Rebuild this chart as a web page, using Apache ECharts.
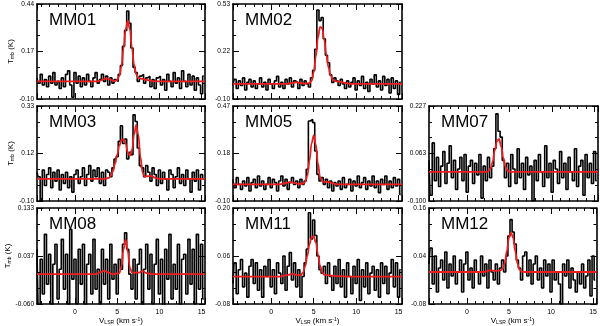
<!DOCTYPE html>
<html><head><meta charset="utf-8">
<script src="https://cdn.jsdelivr.net/npm/echarts@6/dist/echarts.min.js"></script>
<style>html,body{margin:0;padding:0;background:#fff}#c{width:600px;height:326px}</style>
</head><body><div id="c"></div>
<script>
// spectral channels (km/s)
const channels = [-4.5,-4.25,-4,-3.75,-3.5,-3.25,-3,-2.75,-2.5,-2.25,-2,-1.75,-1.5,-1.25,-1,-0.75,-0.5,-0.25,0,0.25,0.5,0.75,1,1.25,1.5,1.75,2,2.25,2.5,2.75,3,3.25,3.5,3.75,4,4.25,4.5,4.75,5,5.25,5.5,5.75,6,6.25,6.5,6.75,7,7.25,7.5,7.75,8,8.25,8.5,8.75,9,9.25,9.5,9.75,10,10.25,10.5,10.75,11,11.25,11.5,11.75,12,12.25,12.5,12.75,13,13.25,13.5,13.75,14,14.25,14.5,14.75,15,15.25];

const mm01 = [0.02,-0.01,0.04,-0.02,0.01,-0.03,0.03,-0.01,0.05,-0.02,0.00,-0.04,0.02,-0.03,0.04,0.06,-0.02,-0.09,0.05,-0.01,0.03,-0.03,0.02,-0.02,0.04,0.00,-0.03,0.02,0.05,-0.01,0.01,0.04,0.00,0.03,-0.02,0.02,-0.01,0.01,0.00,0.04,0.09,0.20,0.29,0.40,0.33,0.19,0.08,0.05,0.00,0.03,0.04,-0.01,0.02,0.03,-0.03,0.01,-0.04,0.02,0.03,-0.02,0.01,-0.05,0.04,0.00,-0.03,0.05,-0.01,0.02,-0.04,0.06,0.00,-0.03,0.04,-0.02,0.03,-0.05,0.02,-0.02,-0.07,0.03];
const mm02 = [-0.01,0.03,-0.03,0.02,-0.01,0.04,-0.04,0.01,0.03,-0.02,0.02,-0.03,0.00,0.04,-0.02,0.01,-0.04,0.03,0.00,-0.03,0.02,0.05,-0.02,0.01,-0.03,0.03,0.00,0.04,-0.02,0.02,0.01,-0.03,0.03,-0.01,0.02,0.00,-0.02,0.04,0.09,0.23,0.49,0.42,0.44,0.30,0.19,0.14,0.06,0.01,0.04,0.02,-0.01,0.03,0.00,-0.03,0.02,-0.02,0.01,0.04,-0.04,0.02,-0.01,0.05,-0.03,0.01,-0.05,0.03,0.00,0.06,-0.02,0.02,-0.04,0.05,-0.01,0.03,-0.06,0.04,-0.03,0.02,-0.07,0.01];
const mm03 = [0.03,0.01,-0.10,0.04,-0.03,0.02,0.05,-0.04,0.03,-0.01,0.04,-0.05,0.02,-0.02,0.03,-0.04,0.01,-0.06,0.02,0.04,-0.02,0.01,0.05,-0.03,0.02,0.06,-0.01,0.04,0.01,0.05,-0.02,0.03,-0.03,0.04,0.03,0.01,0.05,0.09,0.10,0.17,0.24,0.16,0.18,0.09,0.12,0.11,0.29,0.26,0.14,0.06,0.05,0.01,0.06,0.03,-0.01,0.05,0.02,-0.03,0.04,-0.02,0.03,0.00,-0.05,0.04,0.02,-0.04,0.01,0.05,-0.02,0.02,-0.03,0.04,0.00,-0.06,0.03,-0.01,0.04,-0.05,0.02,0.00];
const mm05 = [0.03,-0.02,0.04,0.00,-0.03,0.02,-0.01,0.04,-0.04,0.01,0.03,-0.02,0.05,-0.01,0.02,-0.03,0.00,0.04,-0.02,0.03,0.01,-0.04,0.02,0.05,-0.01,0.03,-0.03,0.01,0.04,0.00,0.02,-0.02,0.03,0.00,0.02,0.09,0.38,0.39,0.37,0.20,0.06,0.02,0.04,0.00,0.03,-0.02,0.02,-0.04,0.01,-0.01,0.02,-0.03,0.04,-0.02,0.00,0.03,-0.04,0.02,-0.01,0.05,-0.02,0.01,0.04,-0.03,0.02,-0.01,0.05,-0.02,0.02,-0.05,0.03,0.00,0.05,-0.03,0.02,-0.02,0.04,-0.01,0.03,-0.06];
const mm07 = [0.04,-0.08,0.10,-0.03,0.05,-0.05,0.02,0.07,-0.04,0.03,0.09,-0.02,0.04,-0.06,0.01,0.05,-0.03,0.06,-0.07,0.02,0.04,-0.04,0.03,-0.01,0.06,-0.09,0.02,-0.03,0.05,-0.02,0.02,0.08,0.20,0.14,0.12,0.04,-0.02,0.03,-0.05,0.06,0.01,-0.04,0.08,-0.02,0.03,-0.06,0.05,-0.01,0.02,-0.10,0.04,-0.03,0.06,0.00,-0.05,0.09,-0.02,0.03,-0.07,0.04,0.01,-0.04,0.07,-0.02,0.03,-0.06,0.05,0.00,-0.03,0.08,-0.05,0.02,0.04,-0.08,0.06,-0.02,0.03,-0.04,0.07,-0.03];
const mm08 = [0.05,-0.07,0.03,-0.04,0.08,-0.02,0.04,-0.07,0.02,0.06,-0.05,0.01,0.07,-0.03,0.04,-0.07,0.09,-0.01,0.03,-0.06,0.05,-0.02,0.06,-0.07,0.02,0.04,-0.04,0.07,-0.03,0.01,-0.06,0.05,-0.02,0.03,-0.05,0.06,-0.01,0.02,-0.04,0.03,0.01,0.06,0.083,0.05,0.00,-0.03,0.03,-0.05,0.02,0.05,-0.07,0.01,0.06,-0.03,0.04,-0.06,0.02,0.07,-0.04,0.03,-0.07,0.05,-0.01,0.08,-0.05,0.02,-0.03,0.06,-0.07,0.03,0.04,-0.04,0.07,-0.02,0.05,-0.06,0.08,-0.03,0.06,-0.05];
const mm11 = [-0.02,0.04,-0.05,0.02,0.05,-0.03,0.01,-0.06,0.03,0.05,-0.02,0.04,-0.04,0.02,-0.06,0.03,0.00,0.05,-0.03,0.02,-0.05,0.04,0.01,-0.02,0.06,-0.04,0.03,0.07,-0.01,0.04,-0.03,0.02,-0.06,0.00,0.04,0.08,0.186,0.11,0.165,0.12,0.06,0.02,0.01,0.03,-0.02,0.04,0.00,-0.04,0.03,-0.02,0.05,-0.03,0.02,-0.06,0.04,0.00,-0.05,0.03,-0.02,0.05,-0.07,0.02,-0.03,0.04,-0.05,0.01,0.03,-0.04,0.02,-0.06,0.04,-0.02,0.03,-0.05,0.01,0.05,-0.03,0.04,-0.06,0.02];
const mm12 = [0.02,0.06,-0.03,0.04,-0.05,0.01,0.03,-0.02,0.05,-0.04,0.02,-0.01,0.04,-0.03,0.00,0.03,-0.05,0.02,0.05,-0.02,0.01,-0.04,0.03,0.00,-0.03,0.04,-0.01,0.02,-0.04,0.03,0.00,-0.02,0.02,-0.03,0.01,0.03,0.00,0.04,0.09,0.131,0.10,0.07,0.03,0.01,-0.02,0.04,0.05,-0.01,0.03,-0.03,0.02,0.04,-0.02,0.01,-0.04,0.03,-0.01,0.02,-0.05,0.03,-0.02,0.00,-0.03,-0.08,0.02,-0.01,0.03,-0.04,0.01,-0.02,-0.05,0.00,-0.03,0.02,-0.04,-0.01,0.03,-0.06,0.04,-0.02];

// fitted profiles [velocity, T]
const fit01 = [[-4.5,0],[2.5,0],[3.0,0.004],[3.5,0.014],[3.75,0.017],[4.0,0.014],[4.5,0.004],[4.75,0.002],[5.0,0.008],[5.25,0.03],[5.5,0.086],[5.75,0.186],[6.0,0.296],[6.25,0.345],[6.5,0.296],[6.75,0.19],[7.0,0.095],[7.25,0.042],[7.5,0.022],[7.75,0.016],[8.0,0.014],[8.5,0.008],[9.0,0.003],[9.5,0],[15.4,0]];
const fit02 = [[-4.5,0],[1.75,0],[2.5,0.006],[3.0,0.012],[3.5,0.006],[4.0,0.002],[4.5,0.006],[4.75,0.02],[5.0,0.075],[5.25,0.18],[5.5,0.305],[5.75,0.378],[6.0,0.37],[6.25,0.29],[6.5,0.19],[6.75,0.11],[7.0,0.055],[7.25,0.028],[7.5,0.02],[8.0,0.015],[8.5,0.008],[9.5,0],[15.4,0]];
const fit03 = [[-4.5,0],[3.5,0],[4.0,0.005],[4.25,0.015],[4.5,0.035],[4.75,0.07],[5.0,0.11],[5.25,0.15],[5.5,0.175],[5.75,0.18],[6.0,0.16],[6.25,0.12],[6.5,0.105],[6.75,0.13],[7.0,0.2],[7.25,0.245],[7.5,0.2],[7.75,0.1],[8.0,0.03],[8.25,0.01],[8.5,0.012],[9.0,0.014],[9.5,0.005],[10,0],[15.4,0]];
const fit05 = [[-4.5,0],[1.0,0],[1.75,0.008],[2.25,0.014],[2.75,0.008],[3.25,0.002],[3.75,0.005],[4.0,0.015],[4.25,0.05],[4.5,0.14],[4.75,0.245],[5.0,0.294],[5.25,0.24],[5.5,0.125],[5.75,0.045],[6.0,0.018],[6.25,0.014],[6.5,0.016],[6.75,0.014],[7.25,0.006],[7.75,0],[15.4,0]];
const fit07 = [[-4.5,0],[2.25,0],[2.5,0.003],[2.75,0.012],[3.0,0.035],[3.25,0.075],[3.5,0.106],[3.75,0.114],[4.0,0.088],[4.25,0.048],[4.5,0.018],[4.75,0.005],[5.0,0],[15.4,0]];
const fit08 = [[-4.5,0],[2.5,0],[3.0,0.004],[3.5,0.007],[4.0,0.003],[4.5,0],[5.25,0.002],[5.5,0.015],[5.75,0.05],[6.0,0.07],[6.25,0.046],[6.5,0.013],[6.75,0.003],[7.5,0.003],[8.0,0.006],[8.5,0.002],[9.0,0],[15.4,0]];
const fit11 = [[-4.5,0],[1.0,0],[2.0,0.005],[2.5,0.008],[3.0,0.005],[3.5,0.004],[3.75,0.012],[4.0,0.03],[4.25,0.06],[4.5,0.094],[4.75,0.114],[5.0,0.118],[5.25,0.1],[5.5,0.066],[5.75,0.032],[6.0,0.012],[6.25,0.005],[7.0,0.003],[8.0,0.001],[9.0,0],[15.4,0]];
const fit12 = [[-4.5,0],[2.0,0],[2.75,0.004],[3.5,0.003],[4.0,0.004],[4.25,0.008],[4.5,0.022],[4.75,0.052],[5.0,0.086],[5.25,0.098],[5.5,0.086],[5.75,0.052],[6.0,0.022],[6.25,0.006],[6.5,0.001],[7.0,0],[15.4,0]];

const panelNames = ['MM01','MM02','MM03','MM05','MM07','MM08','MM11','MM12'];
const spectra = [mm01, mm02, mm03, mm05, mm07, mm08, mm11, mm12];
const fits = [fit01, fit02, fit03, fit05, fit07, fit08, fit11, fit12];
const yMin = [-0.10,-0.10,-0.10,-0.10,-0.100,-0.060,-0.08,-0.08];
const yMax = [0.44,0.53,0.33,0.47,0.227,0.133,0.20,0.16];
const yTickLabels = [
  ['-0.10','0.17','0.44'], ['-0.10','0.22','0.53'], ['-0.10','0.12','0.33'], ['-0.10','0.18','0.47'],
  ['-0.100','0.063','0.227'], ['-0.060','0.037','0.133'], ['-0.08','0.06','0.20'], ['-0.08','0.04','0.16']
];
const xMin = -4.5, xMax = 15.4;

// layout
const slots = [[0,0],[0,1],[1,0],[1,1],[1,2],[2,0],[2,1],[2,2]];
const colLeft = [37, 233, 429], colWidth = [168, 169, 169];
const rowTop = [4, 106, 208], rowHeight = [95, 95, 97];
const FONT = 'Liberation Sans';
const RED = '#ee1c1c';

const grid = [], xAxis = [], yAxis = [], series = [], title = [];
panelNames.forEach((name, k) => {
  const [r, c] = slots[k];
  grid.push({left: colLeft[c], top: rowTop[r], width: colWidth[c], height: rowHeight[r], containLabel: false});
  const axLine = {show: true, onZero: false, lineStyle: {color: '#000', width: 1.6}};
  const isBottom = r === 2;
  const xBase = {
    type: 'value', gridIndex: k, min: xMin, max: xMax, splitNumber: 4, minInterval: 5, maxInterval: 5,
    axisLine: axLine, splitLine: {show: false},
    axisTick: {show: true, inside: true, length: 6, lineStyle: {color: '#000', width: 1}},
    minorTick: {show: true, splitNumber: 5, length: 3, lineStyle: {color: '#000', width: 1}}
  };
  xAxis.push(Object.assign({}, xBase, {
    position: 'bottom',
    axisLabel: {show: isBottom, showMinLabel: false, showMaxLabel: false, color: '#000', fontSize: 7, fontFamily: FONT, margin: 5},
    name: isBottom ? '{v|V}{s|LSR}{v| (km s}{p|-1}{v|)}' : '',
    nameLocation: 'middle', nameGap: 13,
    nameTextStyle: {color: '#000', fontFamily: FONT, rich: {
      v: {fontSize: 8, fontFamily: FONT, color: '#000'},
      s: {fontSize: 5, fontFamily: FONT, color: '#000', verticalAlign: 'bottom', padding: [3, 0, 0, 0]},
      p: {fontSize: 5, fontFamily: FONT, color: '#000', verticalAlign: 'top', padding: [0, 0, 3, 0]}
    }}
  }));
  xAxis.push(Object.assign({}, xBase, {position: 'top', axisLabel: {show: false}}));
  const interval = (yMax[k] - yMin[k]) / 2;
  const yBase = {
    type: 'value', gridIndex: k, min: yMin[k], max: yMax[k], interval: interval,
    axisLine: axLine, splitLine: {show: false},
    axisTick: {show: true, inside: true, length: 6, lineStyle: {color: '#000', width: 1}},
    minorTick: {show: true, splitNumber: 3, length: 3, lineStyle: {color: '#000', width: 1}}
  };
  const labels = yTickLabels[k];
  yAxis.push(Object.assign({}, yBase, {
    position: 'left',
    axisLabel: {show: true, color: '#000', fontSize: 6.5, fontFamily: FONT, margin: 3,
      formatter: (v, i) => labels[i] !== undefined ? labels[i] : ''},
    name: c === 0 ? '{t|T}{s|mb}{t| (K)}' : '',
    nameLocation: 'middle', nameGap: 21,
    nameTextStyle: {color: '#000', fontFamily: FONT, rich: {
      t: {fontSize: 8, fontFamily: FONT, color: '#000'},
      s: {fontSize: 5, fontFamily: FONT, color: '#000', verticalAlign: 'bottom', padding: [3, 0, 0, 0]}
    }}
  }));
  yAxis.push(Object.assign({}, yBase, {position: 'right', axisLabel: {show: false}}));
  series.push({
    type: 'line', xAxisIndex: 2 * k, yAxisIndex: 2 * k, step: 'middle', symbol: 'none',
    data: channels.map((v, i) => [v, spectra[k][i]]),
    lineStyle: {color: '#000', width: 1.6}, clip: true, silent: true, z: 2
  });
  series.push({
    type: 'line', xAxisIndex: 2 * k, yAxisIndex: 2 * k, symbol: 'none', smooth: 0.4, smoothMonotone: 'x',
    data: fits[k], lineStyle: {color: RED, width: 1.8}, clip: true, silent: true, z: 3
  });
  title.push({text: name, left: colLeft[c] + 12, top: rowTop[r] + 8, padding: 0,
    textStyle: {fontSize: 17, fontWeight: 'normal', color: '#000', fontFamily: FONT}});
});

const chart = echarts.init(document.getElementById('c'), null, {renderer: 'canvas'});
chart.setOption({animation: false, backgroundColor: '#fff', title, grid, xAxis, yAxis, series});
</script>
</body></html>
